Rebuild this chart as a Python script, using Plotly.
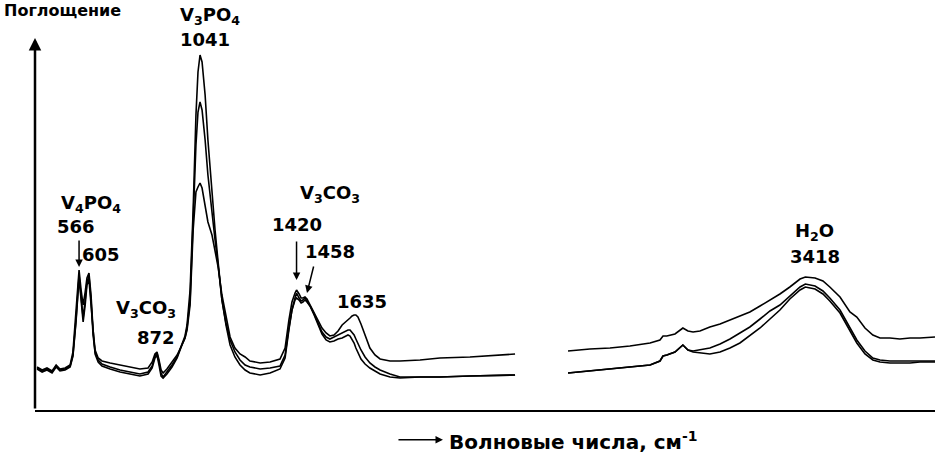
import plotly.graph_objects as go

# -------------------- Data (IR spectra, arbitrary absorbance) --------------------

# Segment 1: 400 - 2280 cm-1
wn_low = [401, 421, 440, 460, 476, 491, 511, 531, 542, 554,
          566, 574, 582, 590, 597, 605, 613, 621, 629, 641,
          656, 688, 727, 766, 805, 837, 853, 864, 872, 880,
          888, 896, 911, 931, 951, 970, 982, 990, 1002, 1014,
          1025, 1033, 1041, 1049, 1061, 1072, 1088, 1100, 1112, 1127,
          1143, 1159, 1178, 1198, 1218, 1237, 1277, 1316, 1355, 1375,
          1390, 1402, 1414, 1420, 1430, 1438, 1445, 1453, 1461, 1473,
          1489, 1504, 1520, 1536, 1551, 1567, 1583, 1599, 1614, 1622,
          1630, 1638, 1646, 1653, 1661, 1673, 1689, 1708, 1728, 1748,
          1787, 1826, 1905, 1983, 2101, 2219, 2278]

abs_a_low = [0.42, 0.39, 0.41, 0.38, 0.44, 0.40, 0.41, 0.44, 0.55, 0.90,
             1.35, 1.15, 0.92, 1.10, 1.28, 1.34, 1.10, 0.75, 0.58, 0.50,
             0.46, 0.43, 0.40, 0.38, 0.36, 0.38, 0.44, 0.54, 0.57, 0.48,
             0.37, 0.33, 0.38, 0.45, 0.53, 0.67, 0.74, 0.85, 1.20, 2.00,
             2.95, 3.38, 3.55, 3.48, 3.15, 2.70, 2.15, 1.80, 1.48, 1.10,
             0.85, 0.65, 0.53, 0.45, 0.40, 0.37, 0.35, 0.37, 0.41, 0.52,
             0.80, 1.00, 1.12, 1.17, 1.12, 1.09, 1.10, 1.12, 1.09, 1.04,
             0.95, 0.85, 0.76, 0.70, 0.68, 0.69, 0.71, 0.72, 0.74, 0.75,
             0.74, 0.71, 0.67, 0.62, 0.57, 0.51, 0.46, 0.42, 0.39, 0.36,
             0.33, 0.32, 0.33, 0.33, 0.34, 0.35, 0.35]

abs_b_low = [0.41, 0.38, 0.40, 0.37, 0.43, 0.39, 0.40, 0.43, 0.54, 0.88,
             1.32, 1.12, 0.88, 1.05, 1.25, 1.30, 1.05, 0.72, 0.56, 0.48,
             0.44, 0.41, 0.38, 0.36, 0.34, 0.36, 0.42, 0.52, 0.55, 0.45,
             0.34, 0.32, 0.36, 0.43, 0.52, 0.65, 0.72, 0.82, 1.10, 1.90,
             2.65, 2.98, 3.08, 3.00, 2.70, 2.35, 1.95, 1.70, 1.45, 1.10,
             0.87, 0.70, 0.58, 0.50, 0.45, 0.43, 0.41, 0.42, 0.44, 0.55,
             0.82, 1.00, 1.10, 1.12, 1.10, 1.07, 1.08, 1.10, 1.08, 1.04,
             0.96, 0.87, 0.78, 0.73, 0.71, 0.73, 0.75, 0.77, 0.79, 0.80,
             0.80, 0.78, 0.75, 0.71, 0.66, 0.60, 0.53, 0.47, 0.43, 0.40,
             0.36, 0.33, 0.33, 0.33, 0.34, 0.35, 0.35]

abs_c_low = [0.43, 0.40, 0.42, 0.39, 0.45, 0.41, 0.42, 0.45, 0.58, 0.95,
             1.40, 1.20, 1.05, 1.18, 1.32, 1.37, 1.15, 0.80, 0.60, 0.52,
             0.49, 0.47, 0.45, 0.43, 0.41, 0.42, 0.48, 0.56, 0.58, 0.50,
             0.40, 0.37, 0.41, 0.48, 0.55, 0.65, 0.72, 0.80, 1.05, 1.80,
             2.18, 2.23, 2.27, 2.22, 2.05, 1.88, 1.75, 1.60, 1.43, 1.15,
             0.92, 0.73, 0.62, 0.56, 0.53, 0.49, 0.47, 0.48, 0.51, 0.62,
             0.90, 1.08, 1.17, 1.20, 1.16, 1.12, 1.12, 1.13, 1.11, 1.05,
             0.97, 0.90, 0.82, 0.77, 0.74, 0.75, 0.79, 0.85, 0.88, 0.90,
             0.92, 0.94, 0.95, 0.95, 0.93, 0.86, 0.75, 0.62, 0.55, 0.51,
             0.49, 0.49, 0.50, 0.52, 0.53, 0.55, 0.56]

# Segment 2: 2490 - 3930 cm-1
wn_high = [2486, 2572, 2651, 2729, 2808, 2847, 2859, 2874, 2906, 2937,
           2957, 2977, 3004, 3043, 3083, 3122, 3161, 3200, 3240, 3279,
           3318, 3357, 3397, 3418, 3456, 3487, 3514, 3554, 3593, 3620,
           3652, 3683, 3711, 3750, 3789, 3829, 3868, 3927]

abs_a_high = [0.37, 0.39, 0.41, 0.43, 0.45, 0.49, 0.54, 0.55, 0.58, 0.65,
              0.60, 0.58, 0.57, 0.56, 0.58, 0.62, 0.67, 0.74, 0.82, 0.91,
              1.00, 1.11, 1.20, 1.23, 1.21, 1.16, 1.09, 0.97, 0.80, 0.67,
              0.56, 0.50, 0.48, 0.47, 0.47, 0.47, 0.48, 0.48]

abs_b_high = [0.37, 0.39, 0.41, 0.43, 0.45, 0.49, 0.54, 0.55, 0.58, 0.65,
              0.60, 0.59, 0.60, 0.62, 0.66, 0.71, 0.77, 0.83, 0.91, 0.99,
              1.05, 1.14, 1.23, 1.26, 1.24, 1.19, 1.12, 1.00, 0.83, 0.70,
              0.59, 0.52, 0.50, 0.49, 0.49, 0.49, 0.49, 0.49]

abs_c_high = [0.59, 0.61, 0.62, 0.64, 0.67, 0.70, 0.74, 0.74, 0.76, 0.82,
              0.79, 0.78, 0.79, 0.83, 0.86, 0.90, 0.94, 0.98, 1.04, 1.10,
              1.16, 1.23, 1.31, 1.33, 1.32, 1.29, 1.23, 1.13, 0.98, 0.93,
              0.82, 0.75, 0.72, 0.72, 0.71, 0.72, 0.72, 0.73]

# -------------------- Figure --------------------

FONT = "DejaVu Sans"

fig = go.Figure()

for low, high in [(abs_a_low, abs_a_high), (abs_b_low, abs_b_high), (abs_c_low, abs_c_high)]:
    fig.add_trace(go.Scatter(
        x=wn_low + [None] + wn_high,
        y=low + [None] + high,
        mode="lines",
        line=dict(color="black", width=1.6),
        connectgaps=False,
        showlegend=False,
        hoverinfo="skip",
    ))


def label(text, x, y, size=18, **kw):
    fig.add_annotation(x=x, y=y, text="<b>" + text + "</b>", showarrow=False,
                       xanchor="center", yanchor="middle",
                       font=dict(family=FONT, size=size, color="black"), **kw)


def arrow(x, y, ax, ay):
    fig.add_annotation(x=x, y=y, ax=ax, ay=ay, text="", showarrow=True,
                       arrowhead=2, arrowsize=1, arrowwidth=1.5, arrowcolor="black")


# top label sits above the axis range -> paper coords
label("V<sub>3</sub>PO<sub>4</sub>", 0.194, 1.058, xref="paper", yref="paper")
label("1041", 1061, 3.71)
label("V<sub>4</sub>PO<sub>4</sub>", 613, 2.06)
label("566", 554, 1.84)
label("605", 652, 1.56)
arrow(566, 1.43, 0, -28)
label("V<sub>3</sub>CO<sub>3</sub>", 829, 1.01)
label("872", 868, 0.73)
label("V<sub>3</sub>CO<sub>3</sub>", 1551, 2.16)
label("1420", 1422, 1.86)
arrow(1420, 1.30, 0, -40)
label("1458", 1551, 1.59)
arrow(1461, 1.17, 7, -28)
label("1635", 1677, 1.09)
label("H<sub>2</sub>O", 3452, 1.78)
label("3418", 3456, 1.54)

# y axis with arrow
fig.add_annotation(xref="paper", yref="paper", x=0, y=1, ax=0, ay=372,
                   text="", showarrow=True, arrowhead=2, arrowsize=1,
                   arrowwidth=2.5, arrowcolor="black")
fig.add_annotation(xref="paper", yref="paper", x=-0.037, y=1.075,
                   xanchor="left", yanchor="middle", text="<b>Поглощение</b>",
                   showarrow=False, font=dict(family=FONT, size=16, color="black"))

# x axis title with arrow
fig.add_annotation(xref="paper", yref="paper", x=0.4533, y=-0.08, ax=-46, ay=0,
                   text="", showarrow=True, arrowhead=2, arrowsize=1,
                   arrowwidth=1.5, arrowcolor="black")
fig.add_annotation(xref="paper", yref="paper", x=0.458, y=-0.08, yshift=-1,
                   xanchor="left", yanchor="middle",
                   text="<b>Волновые числа, см<sup>-1</sup></b>",
                   showarrow=False, font=dict(family=FONT, size=20, color="black"))

fig.update_xaxes(range=[393, 3927], showline=True, linecolor="black", linewidth=2,
                 showticklabels=False, ticks="", showgrid=False, zeroline=False)
fig.update_yaxes(range=[0, 3.72], visible=False)

fig.update_layout(
    width=935, height=453,
    margin=dict(l=35, r=0, t=38, b=43),
    plot_bgcolor="white", paper_bgcolor="white",
    font=dict(family=FONT, color="black"),
)

fig.write_html("out.html", config={"displayModeBar": False},
               post_script="document.body.style.margin='0';")
